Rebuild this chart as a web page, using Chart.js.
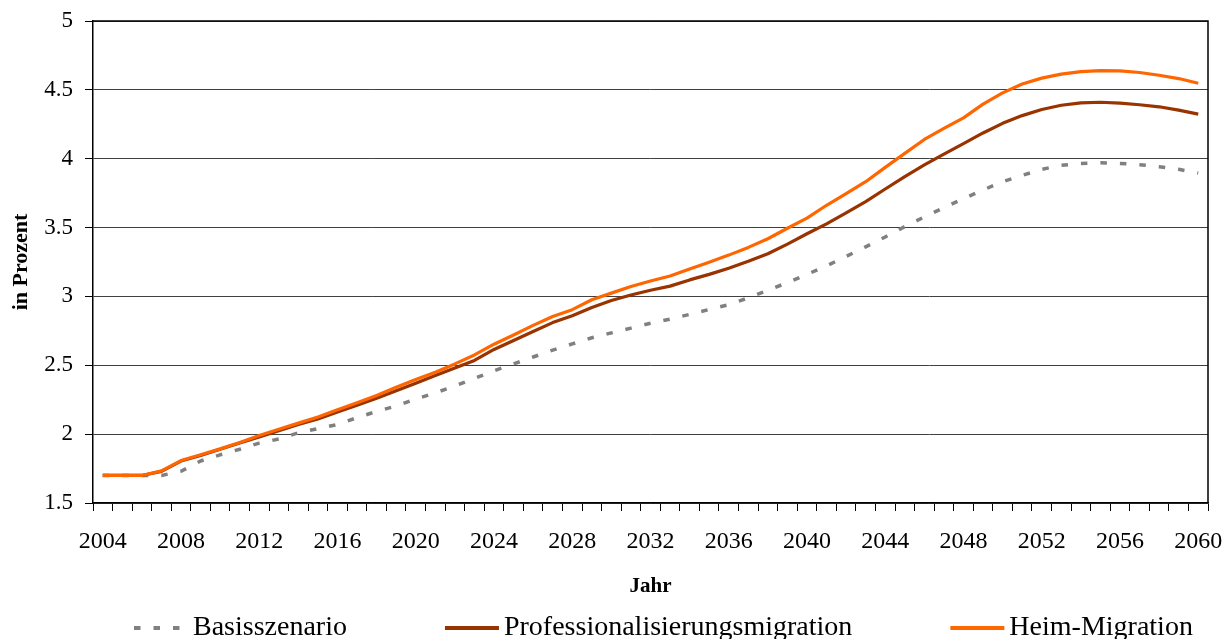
<!DOCTYPE html>
<html>
<head>
<meta charset="utf-8">
<script src="https://cdn.jsdelivr.net/npm/chart.js@4.4.0/dist/chart.umd.min.js"></script>
<style>
  html, body { margin: 0; padding: 0; background: #fff; overflow: hidden; }
  #wrap { width: 1225px; height: 639px; position: relative; }
</style>
</head>
<body>
<div id="wrap"><canvas id="chart"></canvas></div>
<script>
// Years on the category axis
const years = ['2004','2005','2006','2007','2008','2009','2010','2011','2012','2013',
               '2014','2015','2016','2017','2018','2019','2020','2021','2022','2023',
               '2024','2025','2026','2027','2028','2029','2030','2031','2032','2033',
               '2034','2035','2036','2037','2038','2039','2040','2041','2042','2043',
               '2044','2045','2046','2047','2048','2049','2050','2051','2052','2053',
               '2054','2055','2056','2057','2058','2059','2060'];

// Share in percent, one value per year
const basisszenario = [1.70,1.70,1.70,1.70,1.73,1.805,1.85,1.89,1.935,1.965,
                       2.01,2.04,2.07,2.12,2.165,2.205,2.255,2.30,2.35,2.405,
                       2.46,2.51,2.56,2.61,2.655,2.70,2.735,2.77,2.805,2.835,
                       2.87,2.905,2.94,2.99,3.045,3.10,3.16,3.222,3.29,3.36,
                       3.432,3.507,3.577,3.645,3.71,3.773,3.833,3.879,3.923,3.952,
                       3.966,3.971,3.966,3.957,3.942,3.923,3.896];

const professionalisierung = [1.70,1.70,1.70,1.73,1.805,1.845,1.89,1.935,1.98,2.025,
                              2.07,2.11,2.16,2.21,2.26,2.315,2.37,2.425,2.48,2.535,
                              2.615,2.68,2.745,2.81,2.86,2.92,2.97,3.01,3.045,3.075,
                              3.12,3.16,3.205,3.255,3.31,3.38,3.455,3.527,3.607,3.688,
                              3.78,3.87,3.955,4.034,4.109,4.187,4.257,4.313,4.357,4.388,
                              4.406,4.41,4.403,4.392,4.377,4.353,4.324];

const heimMigration = [1.70,1.70,1.70,1.733,1.808,1.85,1.893,1.94,1.99,2.036,
                       2.08,2.124,2.177,2.228,2.28,2.34,2.396,2.45,2.51,2.575,
                       2.653,2.72,2.79,2.854,2.904,2.976,3.024,3.072,3.112,3.148,
                       3.20,3.249,3.30,3.356,3.419,3.495,3.569,3.662,3.747,3.833,
                       3.937,4.039,4.14,4.22,4.297,4.396,4.478,4.543,4.585,4.614,
                       4.633,4.64,4.638,4.626,4.606,4.582,4.548];

const seriesNames = ['Basisszenario', 'Professionalisierungsmigration', 'Heim-Migration'];
const yTicks = { min: 1.5, max: 5, step: 0.5 };
const labelEvery = 4;

const SERIF = '"Liberation Serif", "Times New Roman", serif';
Chart.defaults.font.family = SERIF;
Chart.defaults.color = '#000';

// Plot frame (top and right edge) around the chart area
const frame = {
  id: 'frame',
  afterDatasetsDraw(chart) {
    const { ctx, chartArea: a } = chart;
    ctx.save();
    ctx.strokeStyle = '#000';
    ctx.lineWidth = 1.5;
    ctx.beginPath();
    ctx.moveTo(a.left, a.top);
    ctx.lineTo(a.right, a.top);
    ctx.lineTo(a.right, a.bottom);
    ctx.stroke();
    ctx.restore();
  }
};

// Legend row drawn under the axis title: line sample followed by the series name
const bottomLegend = {
  id: 'bottomLegend',
  afterDraw(chart, args, opts) {
    const { ctx } = chart;
    const y = chart.height - opts.fromBottom;
    ctx.save();
    ctx.font = opts.fontSize + 'px ' + SERIF;
    ctx.textBaseline = 'middle';
    ctx.textAlign = 'left';
    let x = opts.startX;
    chart.data.datasets.forEach(ds => {
      ctx.save();
      ctx.strokeStyle = ds.borderColor;
      ctx.lineWidth = opts.lineWidth;
      ctx.lineCap = 'butt';
      ctx.setLineDash(ds.borderDash || []);
      ctx.beginPath();
      ctx.moveTo(x, y);
      ctx.lineTo(x + opts.sampleWidth, y);
      ctx.stroke();
      ctx.restore();
      x += opts.sampleWidth + opts.textGap;
      ctx.fillStyle = '#000';
      ctx.fillText(ds.label, x, y);
      x += ctx.measureText(ds.label).width + opts.itemGap;
    });
    ctx.restore();
  }
};

new Chart(document.getElementById('chart'), {
  type: 'line',
  data: {
    labels: years,
    datasets: [
      { label: seriesNames[0], data: basisszenario, borderColor: '#808080',
        borderWidth: 3.5, borderDash: [6.5, 13], order: 2 },
      { label: seriesNames[1], data: professionalisierung, borderColor: '#993300',
        borderWidth: 3.2, order: 1 },
      { label: seriesNames[2], data: heimMigration, borderColor: '#FF6600',
        borderWidth: 3.2, order: 0 }
    ]
  },
  options: {
    responsive: true,
    maintainAspectRatio: false,
    animation: false,
    devicePixelRatio: 1,
    layout: { padding: { top: 21, right: 17, bottom: 26, left: 0 } },
    elements: {
      point: { radius: 0, hoverRadius: 0 },
      line: { tension: 0, borderCapStyle: 'butt', borderJoinStyle: 'round', fill: false }
    },
    plugins: {
      legend: { display: false },
      tooltip: { enabled: false },
      bottomLegend: { startX: 134, fromBottom: 11, fontSize: 28, sampleWidth: 54,
                      textGap: 5, itemGap: 98, lineWidth: 4 }
    },
    scales: {
      x: {
        type: 'category',
        offset: true,
        grid: { offset: true, drawOnChartArea: false, drawTicks: true,
                tickLength: 8, tickColor: '#000', tickWidth: 1 },
        border: { display: true, color: '#000', width: 1.5 },
        ticks: {
          autoSkip: false, maxRotation: 0, minRotation: 0, padding: 16,
          font: { size: 24 },
          callback: (value, index) => (index % labelEvery === 0 ? years[index] : '')
        },
        title: { display: true, text: 'Jahr', font: { size: 21, weight: 'bold' },
                 padding: { top: 0, bottom: 14 } },
        afterFit: (scale) => { scale.height = 110; scale.paddingLeft = 0; scale.paddingRight = 0; }
      },
      y: {
        min: yTicks.min,
        max: yTicks.max,
        grid: { color: '#404040', lineWidth: 1, tickLength: 8, tickColor: '#000' },
        border: { display: true, color: '#000', width: 1.5 },
        ticks: {
          stepSize: yTicks.step, padding: 12, font: { size: 23 },
          callback: (value) => String(Math.round(value * 10) / 10)
        },
        title: { display: true, text: 'in Prozent', font: { size: 22, weight: 'bold' },
                 padding: { top: 8, bottom: 0 } },
        afterFit: (scale) => { scale.width = 93; scale.paddingTop = 0; scale.paddingBottom = 0; }
      }
    }
  },
  plugins: [frame, bottomLegend]
});
</script>
</body>
</html>
